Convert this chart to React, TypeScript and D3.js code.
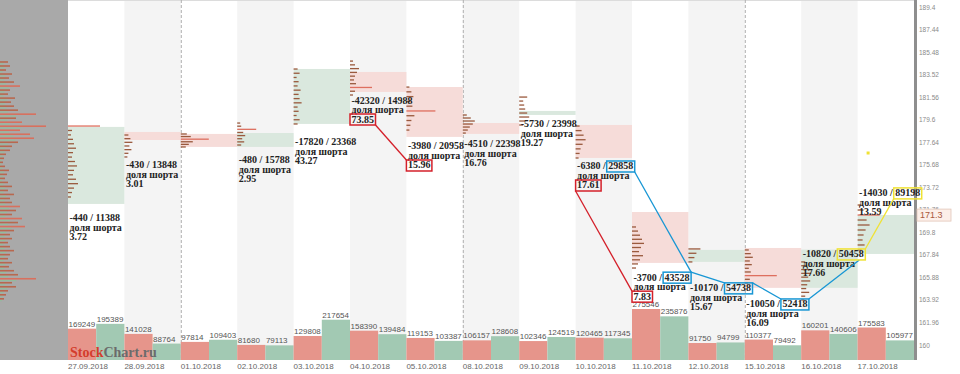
import React, { useEffect, useRef } from 'react';
import * as d3 from 'd3';

const dates = [
  '27.09.2018', '28.09.2018', '01.10.2018', '02.10.2018', '03.10.2018',
  '04.10.2018', '05.10.2018', '08.10.2018', '09.10.2018', '10.10.2018',
  '11.10.2018', '12.10.2018', '15.10.2018', '16.10.2018', '17.10.2018',
];
const sellVolume = [169249, 141028, 97814, 81680, 129808, 158390, 119153, 106157, 102346, 120465, 275546, 91750, 110377, 160201, 175583];
const buyVolume = [195389, 88764, 109403, 79113, 217654, 139484, 103387, 128608, 124519, 117345, 235876, 94799, 79492, 140606, 105977];

// value area per day
const vaHigh = [178.97, 178.53, 178.36, 178.44, 184.01, 183.75, 182.44, 179.31, 180.36, 179.14, 171.57, 168.27, 168.44, 168.3, 171.31];
const vaLow = [172.27, 177.83, 177.23, 177.23, 179.23, 182.01, 178.1, 178.36, 180.01, 176.27, 167.14, 167.23, 164.97, 164.97, 167.92];
const vaUp = [true, false, false, true, true, false, false, false, true, false, false, true, false, true, true];

// day range for the small profiles
const dayHigh = [179.05, 178.27, 178.36, 179.31, 184.01, 184.7, 182.44, 180.01, 181.57, 179.05, 170.27, 168.36, 168.27, 167.23, 172.18];
const dayLow = [172.88, 176.36, 177.23, 177.4, 179.23, 181.75, 178.7, 178.44, 179.14, 176.27, 166.7, 167.23, 165.4, 163.92, 168.27];
const dayProfiles = [
  [32, 4, 3, 5, 6, 8, 5, 4, 7, 9, 6, 5, 8, 10, 6, 4, 3],
  [4, 6, 8, 5, 7, 4, 3],
  [6, 10, 28, 12, 8, 5],
  [3, 4, 19, 6, 8, 5, 7, 4],
  [4, 6, 3, 5, 4, 7, 5, 6, 8, 4, 5, 3, 6, 4],
  [3, 5, 9, 7, 5, 4, 6, 22, 5, 3],
  [3, 5, 7, 4, 6, 29, 8, 5, 4, 3],
  [4, 8, 12, 10, 7, 5, 3],
  [8, 4, 5, 6, 8, 10, 6, 4],
  [4, 6, 8, 10, 7, 5, 4, 3],
  [4, 6, 8, 10, 12, 9, 7, 11, 8, 6, 4],
  [12, 8, 6, 4],
  [4, 6, 8, 5, 7, 4, 6, 32, 5, 3],
  [4, 6, 8, 10, 7, 9, 6, 5, 8, 4, 3],
  [4, 6, 22, 9, 12, 8, 6, 5, 7, 4],
];

// annotations
const deltas = ['-440', '-430', null, '-480', '-17820', '-42320', '-3980', '-4510', '-5730', '-6380', '-3700', '-10170', '-10050', '-10820', '-14030'];
const openInterest = ['11388', '13848', null, '15788', '23368', '14988', '20958', '22398', '23998', '29858', '43528', '54738', '52418', '50458', '89198'];
const shortShare = ['3.72', '3.01', null, '2.95', '43.27', '73.85', '15.96', '16.76', '19.27', '17.61', '7.83', '15.67', '16.09', '17.66', '13.59'];
const labelLevel = [171.05, 175.66, null, 176.1, 177.66, 181.31, 177.31, 177.49, 179.23, 175.57, 165.9, 164.97, 163.57, 167.92, 173.23];

const redShareDays = ['04.10.2018', '05.10.2018', '10.10.2018', '11.10.2018'];
const blueOiDays = ['10.10.2018', '11.10.2018', '12.10.2018', '15.10.2018'];
const yellowOiDays = ['16.10.2018', '17.10.2018'];

// overall profile on the left panel (top to bottom)
const marketProfile = [
  8, 10, 6, 12, 9, 14, 20, 10, 8, 15, 11, 14, 18, 36, 16, 22, 46, 20, 30, 34,
  18, 12, 10, 6, 4, 3, 5, 9, 7, 5, 8, 12, 8, 14, 10, 12, 20, 16, 12, 22,
  18, 25, 14, 10, 12, 8, 10, 14, 10, 8, 12, 9, 14, 18, 36, 12, 16, 8, 6, 4,
];
const marketHigh = 184.6;
const marketLow = 164.0;

const priceTicks = [189.4, 187.44, 185.48, 183.52, 181.56, 179.6, 177.64, 175.68, 173.72, 171.76, 169.8, 167.84, 165.88, 163.92, 161.96, 160];
const currentPrice = 171.3;
const markerPrice = 176.7;

const W = 960;
const H = 374;
const plotLeft = 68;
const plotRight = 914;
const plotBottom = 360;

const RED = '#d4202a';
const BLUE = '#1796d4';
const YELLOW = '#f0e234';

const App: React.FC = () => {
  const svgRef = useRef<SVGSVGElement>(null);

  useEffect(() => {
    if (!svgRef.current) return;
    const svg = d3.select(svgRef.current);
    svg.selectAll('*').remove();

    const x = d3.scaleBand<string>().domain(dates).range([plotLeft, plotRight]).paddingInner(0);
    const bw = x.bandwidth();
    const y = d3.scaleLinear().domain([160, 189.4]).range([345, 7]);
    const vy = d3.scaleLinear().domain([0, d3.max([...sellVolume, ...buyVolume]) as number]).range([plotBottom, 309]);

    // column backgrounds
    svg.append('rect').attr('x', 0).attr('y', 0).attr('width', W).attr('height', H).attr('fill', '#fff');
    dates.forEach((d, i) => {
      if (i % 2 === 1) {
        svg.append('rect')
          .attr('x', x(d)!).attr('y', 0).attr('width', bw).attr('height', plotBottom)
          .attr('fill', '#f4f4f4');
      }
    });
    svg.append('line').attr('x1', plotLeft).attr('x2', plotRight).attr('y1', 0.5).attr('y2', 0.5)
      .attr('stroke', '#dcdcdc');

    // week separators
    ['01.10.2018', '08.10.2018', '15.10.2018'].forEach(d => {
      svg.append('line')
        .attr('x1', x(d)! + 0.5).attr('x2', x(d)! + 0.5).attr('y1', 0).attr('y2', plotBottom)
        .attr('stroke', '#b0b0b0').attr('stroke-dasharray', '3,2');
    });

    // left panel with market profile
    svg.append('rect').attr('x', 0).attr('y', 0).attr('width', plotLeft).attr('height', plotBottom).attr('fill', '#a9a9a9');
    const mStep = (marketHigh - marketLow) / (marketProfile.length - 1);
    marketProfile.forEach((v, i) => {
      const py = y(marketHigh - i * mStep);
      svg.append('rect').attr('x', 0).attr('y', py - 1).attr('width', v).attr('height', 1.6)
        .attr('fill', v >= 20 ? '#d8705e' : '#b8684f');
      svg.append('rect').attr('x', 0).attr('y', py + 1.2).attr('width', v * 0.45).attr('height', 1)
        .attr('fill', '#8fbf9c');
    });

    // value areas
    dates.forEach((d, i) => {
      svg.append('rect')
        .attr('x', x(d)!).attr('y', y(vaHigh[i]))
        .attr('width', bw).attr('height', y(vaLow[i]) - y(vaHigh[i]))
        .attr('fill', vaUp[i] ? '#dae8de' : '#f6dcd9');
    });

    // day profiles
    dates.forEach((d, i) => {
      const prof = dayProfiles[i];
      const step = (dayHigh[i] - dayLow[i]) / Math.max(1, prof.length - 1);
      prof.forEach((v, j) => {
        const py = y(dayHigh[i] - j * step);
        svg.append('rect').attr('x', x(d)!).attr('y', py - 0.6).attr('width', v).attr('height', 1.3)
          .attr('fill', v >= 15 ? '#de6f5f' : '#9a5a3e');
      });
    });

    // volume bars
    dates.forEach((d, i) => {
      const x0 = x(d)!;
      const vals = [sellVolume[i], buyVolume[i]];
      vals.forEach((v, k) => {
        svg.append('rect')
          .attr('x', x0 + k * bw / 2).attr('y', vy(v))
          .attr('width', bw / 2).attr('height', plotBottom - vy(v))
          .attr('fill', k === 0 ? '#e6958b' : '#a2c9b3');
        svg.append('text')
          .attr('x', x0 + k * bw / 2 + 0.5).attr('y', vy(v) - 2)
          .attr('font-family', '"Liberation Sans", Arial, sans-serif').attr('font-size', 8)
          .attr('fill', '#555').text(v);
      });
    });

    // watermark
    const wm = svg.append('text').attr('x', 70).attr('y', 357)
      .attr('font-family', '"Liberation Serif", serif').attr('font-weight', 'bold').attr('font-size', 14);
    wm.append('tspan').attr('fill', '#d43c2c').text('Stock');
    wm.append('tspan').attr('fill', '#6b6b6b').text('Chart.ru');

    // date labels
    dates.forEach(d => {
      svg.append('text').attr('x', x(d)!).attr('y', 369)
        .attr('font-family', '"Liberation Sans", Arial, sans-serif').attr('font-size', 8)
        .attr('fill', '#666').text(d);
    });

    // right price axis
    svg.append('rect').attr('x', plotRight).attr('y', 0).attr('width', 3).attr('height', plotBottom).attr('fill', '#8e8e8e');
    priceTicks.forEach(t => {
      svg.append('text').attr('x', plotRight + 5).attr('y', y(t) + 2.5)
        .attr('font-family', '"Liberation Sans", Arial, sans-serif').attr('font-size', 6.5)
        .attr('fill', '#8a8a8a').text(t);
    });
    svg.append('rect').attr('x', plotRight + 3).attr('y', y(currentPrice) - 6).attr('width', 34).attr('height', 12)
      .attr('fill', '#fcefe9').attr('stroke', '#e2c6b8').attr('stroke-width', 0.8);
    svg.append('text').attr('x', plotRight + 6).attr('y', y(currentPrice) + 3)
      .attr('font-family', '"Liberation Sans", Arial, sans-serif').attr('font-size', 9)
      .attr('fill', '#a8583c').text(currentPrice);

    // annotations
    const font = '"Liberation Serif", "Times New Roman", serif';
    type Box = { x0: number; y0: number; x1: number; y1: number };
    const shareBoxes: Record<string, Box> = {};
    const oiBoxes: Record<string, Box> = {};
    const boxOf = (node: SVGTextElement): Box => {
      const b = node.getBBox();
      return { x0: b.x - 1.5, y0: b.y + 0.5, x1: b.x + b.width + 1.5, y1: b.y + b.height + 0.5 };
    };
    dates.forEach((d, i) => {
      if (deltas[i] === null) return;
      const x0 = x(d)! + 1.5;
      const yb = y(labelLevel[i] as number) + 3.5;
      const g = svg.append('g').attr('font-family', font).attr('font-weight', 'bold')
        .attr('font-size', 10).attr('fill', '#222');
      const pre = g.append('text').attr('x', x0).attr('y', yb).text(`${deltas[i]}\u00a0/\u00a0`);
      const preLen = (pre.node() as SVGTextElement).getComputedTextLength();
      const oi = g.append('text').attr('x', x0 + preLen).attr('y', yb).text(openInterest[i] as string);
      g.append('text').attr('x', x0).attr('y', yb + 9.5).text('доля шорта');
      const sh = g.append('text').attr('x', x0).attr('y', yb + 19).text(shortShare[i] as string);
      oiBoxes[d] = boxOf(oi.node() as SVGTextElement);
      shareBoxes[d] = boxOf(sh.node() as SVGTextElement);
    });

    const drawBox = (b: Box, color: string) => {
      svg.append('rect').attr('x', b.x0).attr('y', b.y0).attr('width', b.x1 - b.x0).attr('height', b.y1 - b.y0)
        .attr('fill', 'none').attr('stroke', color).attr('stroke-width', 1.5);
    };
    const link = (a: [number, number], b: [number, number], color: string) => {
      svg.append('line').attr('x1', a[0]).attr('y1', a[1]).attr('x2', b[0]).attr('y2', b[1])
        .attr('stroke', color).attr('stroke-width', 1.3);
    };

    // red links on short share
    {
      const a = shareBoxes['04.10.2018'], b = shareBoxes['05.10.2018'];
      link([a.x1, a.y1], [b.x0, b.y0], RED);
      const c = shareBoxes['10.10.2018'], e = shareBoxes['11.10.2018'];
      link([c.x0, c.y1], [e.x0, e.y0], RED);
    }
    // blue chain on open interest
    {
      const b10 = oiBoxes['10.10.2018'], b11 = oiBoxes['11.10.2018'], b12 = oiBoxes['12.10.2018'];
      const b15 = oiBoxes['15.10.2018'], b16 = oiBoxes['16.10.2018'], b17 = oiBoxes['17.10.2018'];
      link([b10.x1, b10.y1], [b11.x1, b11.y0], BLUE);
      link([b11.x1, b11.y0], [b12.x0, b12.y0], BLUE);
      link([b12.x1, b12.y0], [b15.x0, b15.y0], BLUE);
      link([b15.x1, b15.y0], [b16.x1 - 6, b16.y1], BLUE);
      link([b16.x1, b16.y0], [b17.x0, b17.y1], YELLOW);
    }
    redShareDays.forEach(d => drawBox(shareBoxes[d], RED));
    blueOiDays.forEach(d => drawBox(oiBoxes[d], BLUE));
    yellowOiDays.forEach(d => drawBox(oiBoxes[d], YELLOW));

    // small marker
    svg.append('rect').attr('x', x('17.10.2018')! + 9).attr('y', y(markerPrice) - 1.5)
      .attr('width', 3).attr('height', 3).attr('fill', YELLOW);
  }, []);

  return (
    <svg ref={svgRef} width={W} height={H} style={{ position: 'absolute', left: 0, top: 0 }} />
  );
};

export default App;
